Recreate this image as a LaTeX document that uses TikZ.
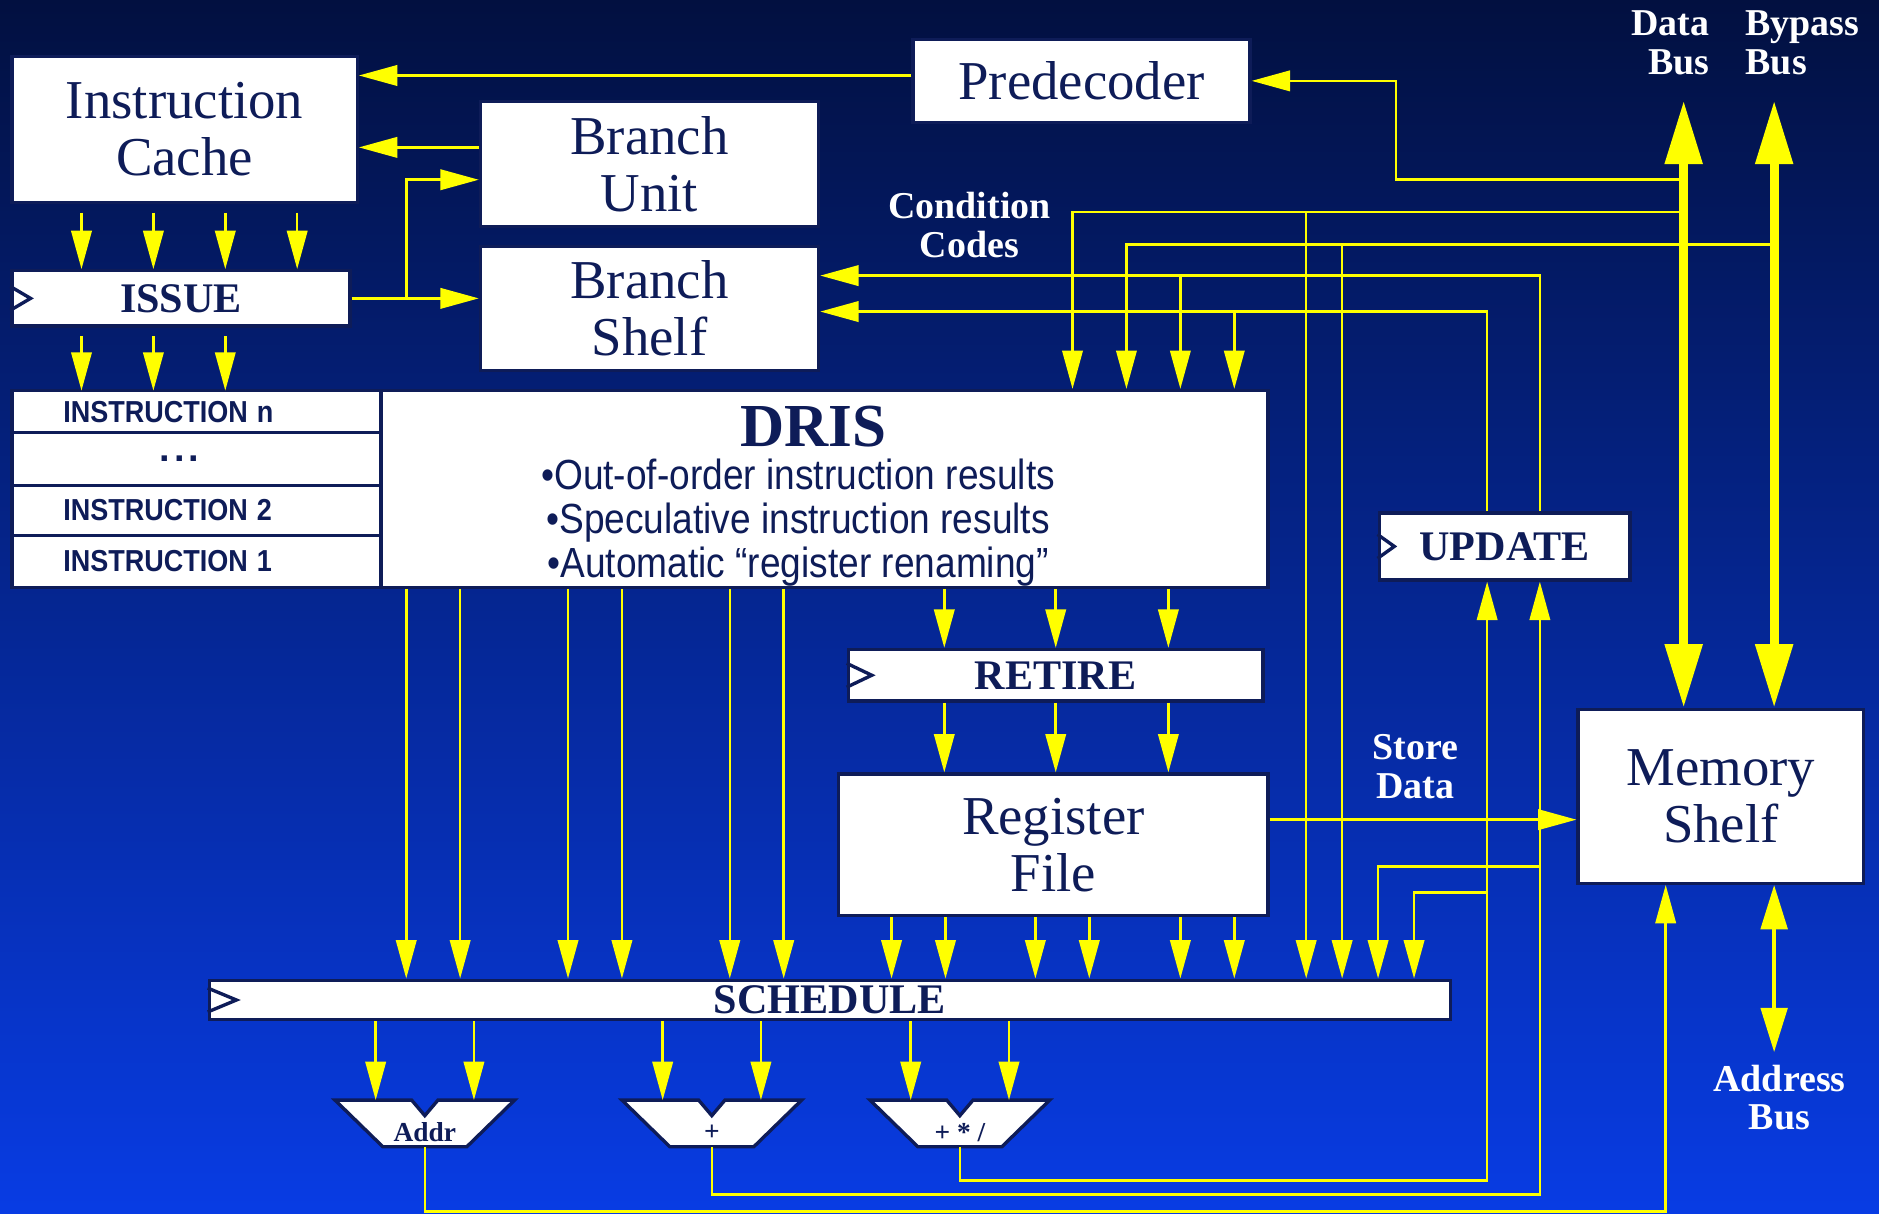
\documentclass[tikz,border=0pt]{standalone}
\usepackage{fontspec}
\setmainfont{Liberation Serif}
\setsansfont{Liberation Sans}
\usetikzlibrary{arrows.meta,positioning}
\definecolor{bgtop}{RGB}{2,16,64}
\definecolor{bgbot}{RGB}{8,60,228}
\definecolor{navy}{RGB}{14,28,88}
\definecolor{ylw}{RGB}{255,255,0}
\tikzset{
  box/.style={rectangle, draw=navy, fill=white, line width=0.8pt, inner sep=0pt, text=navy, align=center, font=\fontsize{13}{13.6}\selectfont},
  stage/.style={box, font=\fontsize{10}{12}\selectfont\bfseries},
  row/.style={box, outer sep=0pt, minimum width=3.08cm, text width=2.22cm, inner xsep=0.43cm, align=left, font=\sffamily\bfseries\fontsize{7.2}{8}\selectfont},
  lbl/.style={text=white, inner sep=0pt, font=\fontsize{9}{9.2}\selectfont\bfseries},
  arr/.style={color=ylw, line width=0.6pt, -{Triangle[length=0.32cm,width=0.17cm]}},
  bus/.style={color=ylw, line width=2.1pt, {Triangle[length=0.53cm,width=0.3cm]}-{Triangle[length=0.53cm,width=0.3cm]}},
  abus/.style={color=ylw, line width=1pt, {Triangle[length=0.37cm,width=0.22cm]}-{Triangle[length=0.37cm,width=0.22cm]}},
  clk/.pic={\draw[navy, line width=0.8pt] (0,-10) -- (#1,0) -- (0,10);},
  alu/.pic={
    \draw[navy, fill=white, line width=0.8pt] (-75,0) -- (-11,0) -- (0,13) -- (11,0) -- (75,0) -- (35,39) -- (-35,39) -- cycle;
    \node[text=navy, font=\fontsize{6.5}{7}\selectfont\bfseries] (-lbl) at (0,27) {#1};
    \coordinate (-in1) at (-41,0);
    \coordinate (-in2) at (41,0);
    \coordinate (-out) at (0,39);
  }
}
\begin{document}
\begin{tikzpicture}[x=0.01cm, y=-0.01cm]
\fill[top color=bgtop, bottom color=bgbot] (0,0) rectangle (1568,1013);

\node (ic) [box, minimum width=2.88cm, minimum height=1.22cm] at (154,108) {Instruction\\Cache};
\node (predec) [box, minimum width=2.81cm, minimum height=0.69cm] at (902.5,67.5) {Predecoder};
\node (bunit) [box, minimum width=2.82cm, minimum height=1.04cm] at (542,137) {Branch\\Unit};
\node (bshelf) [box, minimum width=2.82cm, minimum height=1.03cm] at (542,257.5) {Branch\\Shelf};
\node (issue) [stage, minimum width=2.82cm, minimum height=0.46cm] at (151,249) {ISSUE};
\node (rown) [row, minimum height=0.35cm] at (164,343.5) {\scalebox{0.89}[1]{INSTRUCTION n}};
\node (rowdots) [row, minimum height=0.44cm, below=0pt of rown] {\hspace*{0.8cm}{\fontsize{9}{9}\selectfont.\kern1pt.\kern1pt.}};
\node (row2) [row, minimum height=0.42cm, below=0pt of rowdots] {\scalebox{0.89}[1]{INSTRUCTION 2}};
\node (row1) [row, minimum height=0.43cm, below=0pt of row2] {\scalebox{0.89}[1]{INSTRUCTION 1}};
\node (dris) [box, minimum width=7.4cm, minimum height=1.64cm] at (688,408) {};
\node (dristitle) [text=navy, font=\fontsize{14.5}{15}\selectfont\bfseries] at (679,356) {DRIS};
\node (drisnotes) [text=navy, align=center, font=\sffamily\fontsize{10}{10.5}\selectfont] at (666,436)
  {\scalebox{0.88}[1]{•Out-of-order instruction results}\\ \scalebox{0.88}[1]{•Speculative instruction results}\\ \scalebox{0.88}[1]{•Automatic “register renaming”}};
\node (retire) [stage, minimum width=3.46cm, minimum height=0.43cm] at (881,563.5) {RETIRE};
\node (regfile) [box, minimum width=3.58cm, minimum height=1.18cm] at (879,705) {Register\\File};
\node (update) [stage, minimum width=2.09cm, minimum height=0.56cm] at (1255.5,456) {UPDATE};
\node (memshelf) [box, minimum width=2.38cm, minimum height=1.45cm] at (1436,664.5) {Memory\\Shelf};
\node (schedule) [stage, minimum width=10.35cm, minimum height=0.33cm] at (692.5,834.5) {SCHEDULE};

\pic (addr) at (354.5,918) {alu=Addr};
\pic (plus) at (594,918) {alu=+};
\pic (mul) at (801,918) {alu={+ * /}};

\pic at (issue.west) {clk=17};
\pic at (retire.west) {clk=21};
\pic at (update.west) {clk=14};
\pic at (schedule.west) {clk=24};

\node (databus) [lbl, align=right, anchor=east] at (1427,36) {Data\\Bus};
\node (bypassbus) [lbl, align=left, anchor=west] at (1456,36) {Bypass\\Bus};
\node (ccodes) [lbl, align=center] at (809,188) {Condition\\Codes};
\node (storedata) [lbl, align=center] at (1181,640) {Store\\Data};
\node (addrbus) [lbl, align=center] at (1485,916) {Address\\Bus};

\coordinate (dbtop) at (1405,84);
\coordinate (bbtop) at (1480.5,84);
\coordinate (abbot) at (1480.5,878);
\coordinate (pdtap) at (1165,150);
\coordinate (cc1) at (895,177);
\coordinate (cc2) at (940,204);
\coordinate (upA) at (1285,230);
\coordinate (upB) at (1241,260);
\coordinate (isplit) at (issue.east -| 339,0);

\draw[arr] (predec.west |- 0,63) -- (ic.east |- 0,63);
\draw[arr] (bunit.west |- 0,123) -- (ic.east |- 0,123);
\draw[arr] (issue.east) -- (bshelf.west |- issue.east);
\draw[arr] (isplit) |- (bunit.west |- 0,150);
\foreach \x in {68,128,188,248} \draw[arr, shorten <=2pt] (ic.south -| \x,0) -- (issue.north -| \x,0);
\foreach \x in {68,128,188} \draw[arr, shorten <=2pt] (issue.south -| \x,0) -- (rown.north -| \x,0);

\draw[arr] (dbtop |- pdtap) -- (pdtap) |- (predec.east);
\draw[arr] (dbtop |- cc1) -- (cc1) -- (dris.north -| cc1);
\draw[arr] (bbtop |- cc2) -- (cc2) -- (dris.north -| cc2);
\draw[arr] (cc1 -| 1090,0) -- (schedule.north -| 1090,0);
\draw[arr] (cc2 -| 1120,0) -- (schedule.north -| 1120,0);

\draw[arr] (update.north -| upA) -- (upA) -- (bshelf.east |- upA);
\draw[arr] (update.north -| upB) -- (upB) -- (bshelf.east |- upB);
\draw[arr] (upA -| 985,0) -- (dris.north -| 985,0);
\draw[arr] (upB -| 1030,0) -- (dris.north -| 1030,0);

\foreach \x in {339,384,474,519,609,654} \draw[arr] (dris.south -| \x,0) -- (schedule.north -| \x,0);
\foreach \x in {788,881,975} {
  \draw[arr] (dris.south -| \x,0) -- (retire.north -| \x,0);
  \draw[arr] (retire.south -| \x,0) -- (regfile.north -| \x,0);
}
\foreach \x in {744,789,864,909,985,1030} \draw[arr] (regfile.south -| \x,0) -- (schedule.north -| \x,0);
\foreach \a in {addr,plus,mul} {
  \draw[arr] (schedule.south -| \a-in1) -- (\a-in1);
  \draw[arr] (schedule.south -| \a-in2) -- (\a-in2);
}

\draw[arr] (plus-out) -- ++(0,40) -| (update.south -| upA);
\draw[arr] (mul-out) -- ++(0,28) -| (update.south -| upB);
\draw[arr] (addr-out) -- ++(0,54) -| (memshelf.south -| 1390,0);
\draw[arr] (upA |- 0,723) -| (schedule.north -| 1150,0);
\draw[arr] (upB |- 0,745) -| (schedule.north -| 1180,0);
\draw[arr] (regfile.east |- 0,684) -- (memshelf.west |- 0,684);

\draw[bus] (dbtop) -- (memshelf.north -| dbtop);
\draw[bus] (bbtop) -- (memshelf.north -| bbtop);
\draw[abus] (memshelf.south -| abbot) -- (abbot);
\end{tikzpicture}
\end{document}
